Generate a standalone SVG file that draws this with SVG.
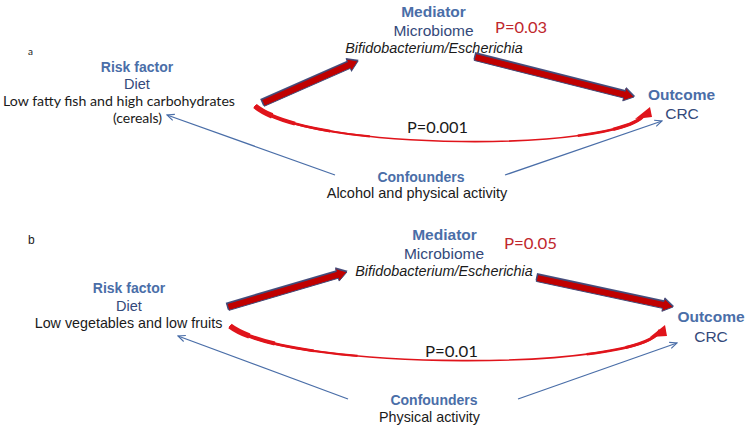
<svg xmlns="http://www.w3.org/2000/svg" width="749" height="430" viewBox="0 0 749 430">
<defs>
<style>
.lbl{font-family:"Liberation Sans",Arial,sans-serif;font-weight:bold;fill:#4a6ea8;text-anchor:middle}
.sub{font-family:"Liberation Sans",Arial,sans-serif;fill:#34497a;text-anchor:middle}
.txt{font-family:"Liberation Sans",Arial,sans-serif;fill:#1a1a1a;text-anchor:middle}
.cal{font-family:Lato,"Liberation Sans",sans-serif;fill:#1a1a1a;text-anchor:middle}
.pv{font-family:Lato,"Liberation Sans",sans-serif;fill:#c0272d}
.ital{font-family:"Liberation Sans",Arial,sans-serif;font-style:italic;fill:#1a1a1a;text-anchor:middle}
.big{fill:#c00000;stroke:#3f4a78;stroke-width:0.9;stroke-linejoin:miter}
.shadow{fill:#4a5280}
.cv{fill:none;stroke:#e0141b;stroke-linecap:butt}
.c0{stroke-width:1.6}
.c1{stroke-width:5.5;stroke-dasharray:5 200}
.c2{stroke-width:4;stroke-dasharray:11 200}
.c3{stroke-width:2.8;stroke-dasharray:20 200}
.c4{stroke-width:2.2;stroke-dasharray:30 200}
.r1{stroke-width:3.2;stroke-dasharray:0 91 10 10}
.r2{stroke-width:2.4;stroke-dasharray:0 82 20 10}
.head{fill:#e0141b}
.conf{stroke:#4a6ea8;stroke-width:1.3;fill:none;marker-end:url(#blueArrow)}
</style>
<marker id="blueArrow" viewBox="0 0 10 10" refX="9" refY="5" markerWidth="8" markerHeight="8" markerUnits="userSpaceOnUse" orient="auto">
<path d="M0,1 L9,5 L0,9" fill="none" stroke="#4a6ea8" stroke-width="1.4"/>
</marker>
<path id="curveA" pathLength="100" d="M255,106 C310,152 620,152 645,114"/>
<path id="curveB" pathLength="100" d="M230,326 C290,372 645,371 660,330"/>
</defs>
<rect width="749" height="430" fill="#ffffff"/>

<g id="connectors">
<!-- panel a -->
<g transform="translate(263,103) rotate(-23.85)">
<polygon class="shadow" points="-1,-4.8 93.9,-4.8 93.9,-7.8 104.9,-1 93.9,5.5 93.9,2.5 -1,2.5"/>
<polygon class="big" points="0,-3.5 93.9,-3.5 93.9,-6.5 103.9,0 93.9,6.5 93.9,3.5 0,3.5"/>
</g>
<g transform="translate(475,57) rotate(14.12)">
<polygon class="shadow" points="-1,-4.8 154,-4.8 154,-7.8 165,-1 154,5.5 154,2.5 -1,2.5"/>
<polygon class="big" points="0,-3.5 154,-3.5 154,-6.5 164,0 154,6.5 154,3.5 0,3.5"/>
</g>
<g id="direct-a">
<use href="#curveA" class="cv c0"/>
<use href="#curveA" class="cv c4"/>
<use href="#curveA" class="cv c3"/>
<use href="#curveA" class="cv c2"/>
<use href="#curveA" class="cv c1"/>
<use href="#curveA" class="cv r2"/>
<use href="#curveA" class="cv r1"/>
<polygon class="head" points="635,119 650,107 652,117"/>
</g>
<line class="conf" x1="335" y1="175" x2="167" y2="115"/>
<line class="conf" x1="505" y1="175" x2="662" y2="121"/>

<!-- panel b -->
<g transform="translate(228,307) rotate(-16.39)">
<polygon class="shadow" points="-1,-4.8 114,-4.8 114,-7.8 125,-1 114,5.5 114,2.5 -1,2.5"/>
<polygon class="big" points="0,-3.5 114,-3.5 114,-6.5 124,0 114,6.5 114,3.5 0,3.5"/>
</g>
<g transform="translate(537,278) rotate(12.04)">
<polygon class="shadow" points="-1,-4.8 129.1,-4.8 129.1,-7.8 140.1,-1 129.1,5.5 129.1,2.5 -1,2.5"/>
<polygon class="big" points="0,-3.5 129.1,-3.5 129.1,-6.5 139.1,0 129.1,6.5 129.1,3.5 0,3.5"/>
</g>
<g id="direct-b">
<use href="#curveB" class="cv c0"/>
<use href="#curveB" class="cv c4"/>
<use href="#curveB" class="cv c3"/>
<use href="#curveB" class="cv c2"/>
<use href="#curveB" class="cv c1"/>
<use href="#curveB" class="cv r2"/>
<use href="#curveB" class="cv r1"/>
<polygon class="head" points="650,337 665,325 667,336"/>
</g>
<line class="conf" x1="348" y1="399" x2="178" y2="336"/>
<line class="conf" x1="518" y1="399" x2="677" y2="343"/>
</g>

<!-- panel a nodes -->
<g id="panel-a-label"><text x="28" y="55" font-family="Lato,'Liberation Sans',sans-serif" font-size="10" fill="#1a1a1a">a</text></g>
<g id="a-risk">
<text class="lbl" x="137" y="72" font-size="14">Risk factor</text>
<text class="sub" x="137" y="89" font-size="14.5">Diet</text>
<text class="cal" x="119" y="106" font-size="14" textLength="232" lengthAdjust="spacingAndGlyphs">Low fatty fish and high carbohydrates</text>
<text class="cal" x="137.5" y="123" font-size="14">(cereals)</text>
</g>
<g id="a-mediator">
<text class="lbl" x="433.5" y="17" font-size="15.5">Mediator</text>
<text class="sub" x="433.5" y="36" font-size="15.5">Microbiome</text>
<text class="ital" x="434" y="53" font-size="14.4">Bifidobacterium/Escherichia</text>
</g>
<g id="a-pvalues">
<text class="pv" x="495" y="32.5" font-size="15" textLength="52" lengthAdjust="spacingAndGlyphs">P=0.03</text>
<text class="cal" x="437.5" y="133" font-size="15" textLength="61" lengthAdjust="spacingAndGlyphs">P=0.001</text>
</g>
<g id="a-outcome">
<text class="lbl" x="681.5" y="100" font-size="15.5">Outcome</text>
<text class="sub" x="682" y="119" font-size="15.5">CRC</text>
</g>
<g id="a-confounders">
<text class="lbl" x="421" y="181.5" font-size="14">Confounders</text>
<text class="txt" x="417" y="198" font-size="14.5">Alcohol and physical activity</text>
</g>

<!-- panel b nodes -->
<g id="panel-b-label"><text x="28" y="244" font-family="'Liberation Sans',Arial,sans-serif" font-size="12" fill="#1a1a1a">b</text></g>
<g id="b-risk">
<text class="lbl" x="129" y="293" font-size="14">Risk factor</text>
<text class="sub" x="129" y="311" font-size="14.5">Diet</text>
<text class="txt" x="128.5" y="328" font-size="14.3">Low vegetables and low fruits</text>
</g>
<g id="b-mediator">
<text class="lbl" x="444.5" y="240" font-size="15.5">Mediator</text>
<text class="sub" x="444" y="259" font-size="15.5">Microbiome</text>
<text class="ital" x="444" y="276" font-size="14.4">Bifidobacterium/Escherichia</text>
</g>
<g id="b-pvalues">
<text class="pv" x="504" y="249" font-size="15" textLength="53" lengthAdjust="spacingAndGlyphs">P=0.05</text>
<text class="cal" x="451.5" y="357" font-size="15" textLength="53" lengthAdjust="spacingAndGlyphs">P=0.01</text>
</g>
<g id="b-outcome">
<text class="lbl" x="711" y="322" font-size="15.5">Outcome</text>
<text class="sub" x="711" y="342" font-size="15.5">CRC</text>
</g>
<g id="b-confounders">
<text class="lbl" x="434" y="405" font-size="14">Confounders</text>
<text class="txt" x="429.5" y="422" font-size="14.3">Physical activity</text>
</g>
</svg>
